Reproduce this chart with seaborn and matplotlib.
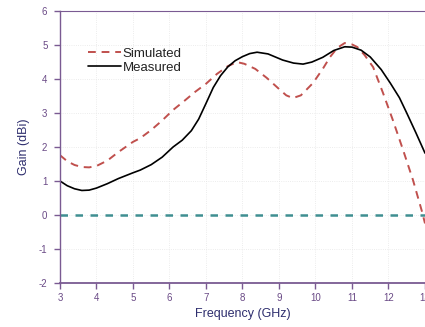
import pandas as pd
import seaborn as sns
import matplotlib
matplotlib.use('Agg')
import matplotlib.pyplot as plt

# 読み取った値 (周波数 GHz, 利得 dBi)
freq_meas = [3.0, 3.2, 3.4, 3.6, 3.8, 4.0, 4.3, 4.6, 5.0, 5.2, 5.5, 5.8, 6.1, 6.35, 6.6,
             6.8, 7.0, 7.2, 7.4, 7.6, 7.8, 8.0, 8.2, 8.4, 8.7, 9.1, 9.4, 9.66, 9.9, 10.2,
             10.5, 10.8, 11.0, 11.25, 11.5, 11.8, 12.05, 12.3, 12.5, 12.75, 13.0]
gain_meas = [1.00, 0.86, 0.77, 0.72, 0.73, 0.79, 0.92, 1.07, 1.24, 1.32, 1.48, 1.70, 2.00, 2.20, 2.48,
             2.82, 3.28, 3.75, 4.10, 4.36, 4.54, 4.66, 4.75, 4.79, 4.74, 4.56, 4.47, 4.44, 4.50, 4.64,
             4.84, 4.95, 4.94, 4.85, 4.65, 4.28, 3.88, 3.45, 3.00, 2.42, 1.82]
freq_sim = [3.0, 3.2, 3.4, 3.6, 3.8, 4.0, 4.3, 4.6, 5.0, 5.2, 5.5, 5.8, 6.1, 6.4, 6.7,
            7.0, 7.3, 7.6, 7.85, 8.05, 8.35, 8.67, 9.03, 9.2, 9.38, 9.6, 9.93, 10.2, 10.4,
            10.6, 10.8, 11.0, 11.15, 11.35, 11.58, 11.85, 12.12, 12.4, 12.67, 12.92, 13.0]
gain_sim = [1.76, 1.58, 1.47, 1.41, 1.40, 1.44, 1.60, 1.85, 2.15, 2.26, 2.50, 2.78, 3.09, 3.35, 3.62,
            3.86, 4.15, 4.38, 4.50, 4.45, 4.30, 4.03, 3.68, 3.52, 3.44, 3.52, 3.88, 4.30, 4.65,
            4.92, 5.06, 5.02, 4.94, 4.70, 4.35, 3.59, 2.79, 1.91, 1.03, 0.09, -0.25]
x_ticks = [3, 4, 5, 6, 7, 8, 9, 10, 11, 12, 13]
y_ticks = [-2, -1, 0, 1, 2, 3, 4, 5, 6]

sim = pd.DataFrame({'freq': freq_sim, 'gain': gain_sim})
meas = pd.DataFrame({'freq': freq_meas, 'gain': gain_meas})

sns.set_style('white')
plt.rcParams['font.family'] = ['Liberation Sans', 'DejaVu Sans']
plt.rcParams['axes.unicode_minus'] = False

purple = '#7a5a92'
fig = plt.figure(figsize=(4.25, 3.27), dpi=100)
ax = fig.add_axes([0.141, 0.135, 0.859, 0.831])

sns.lineplot(x='freq', y='gain', data=sim, ax=ax, color='#c0504d', lw=1.4,
             linestyle=(0, (4, 3)), label='Simulated')
sns.lineplot(x='freq', y='gain', data=meas, ax=ax, color='black', lw=1.2, label='Measured')
ax.axhline(0, color='#3f8f91', lw=1.8, linestyle=(0, (3, 3)), zorder=1)

ax.set_xlim(3, 13)
ax.set_ylim(-2, 6)
ax.set_xticks(x_ticks)
ax.set_yticks(y_ticks)
ax.grid(True, color='#e6e6e6', lw=0.6, linestyle=':')
for s in ['left', 'bottom', 'top']:
    ax.spines[s].set_color(purple)
ax.spines['left'].set_linewidth(1.0)
ax.spines['bottom'].set_linewidth(1.3)
ax.spines['top'].set_linewidth(0.8)
ax.spines['right'].set_visible(False)
ax.tick_params(axis='both', direction='out', length=4, width=1, color=purple,
               labelcolor='#6a4a86', labelsize=7, left=True, bottom=True)
ax.tick_params(axis='y', pad=5)
ax.tick_params(axis='x', pad=3)
ax.set_xlabel('Frequency (GHz)', fontsize=9, color='#2e2e6e', labelpad=4)
ax.set_ylabel('Gain (dBi)', fontsize=9, color='#2e2e6e', labelpad=6)

leg = ax.legend(loc='upper left', bbox_to_anchor=(0.045, 0.91), frameon=False,
                fontsize=9.5, handlelength=2.5, handletextpad=0.1, labelspacing=0.15,
                labelcolor='#222222')

plt.savefig('out.png', dpi=100)
